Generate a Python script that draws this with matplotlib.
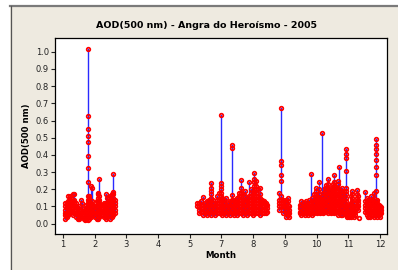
import matplotlib
matplotlib.use("Agg")
import matplotlib.pyplot as plt
from matplotlib.patches import Rectangle
from matplotlib.lines import Line2D

# ---- tick labels (axis positions 1..11, month 6 label absent in original) ----
tick_pos = [1, 2, 3, 4, 5, 6, 7, 8, 9, 10, 11]
tick_labels = ['1', '2', '3', '4', '5', '7', '8', '9', '10', '11', '12']
y_ticks = [0.0, 0.1, 0.2, 0.3, 0.4, 0.5, 0.6, 0.7, 0.8, 0.9, 1.0]

# ---- observations: x position of each day and the AOD values measured that day ----
winter_pos = [1.08, 1.12, 1.17, 1.22, 1.27, 1.32, 1.36, 1.41, 1.46, 1.51, 1.56, 1.60,
              1.65, 1.70, 1.74, 1.78, 1.82, 1.87, 1.92, 1.96, 2.01, 2.06, 2.10, 2.15,
              2.20, 2.25, 2.30, 2.35, 2.40, 2.45, 2.50, 2.55, 2.59, 2.63]
winter_aod = [
    [0.03, 0.05, 0.06, 0.08, 0.10, 0.12],
    [0.04, 0.06, 0.09, 0.11, 0.12, 0.10],
    [0.05, 0.07, 0.09, 0.11, 0.13, 0.16],
    [0.06, 0.08, 0.10, 0.12, 0.14, 0.16],
    [0.07, 0.09, 0.11, 0.13, 0.15],
    [0.05, 0.07, 0.09, 0.11, 0.13, 0.17],
    [0.06, 0.08, 0.10, 0.12, 0.14, 0.17],
    [0.04, 0.06, 0.08, 0.10, 0.12],
    [0.03, 0.05, 0.07, 0.09],
    [0.03, 0.04, 0.06, 0.08, 0.10],
    [0.04, 0.06, 0.08, 0.14],
    [0.05, 0.07, 0.09, 0.12],
    [0.03, 0.05, 0.07],
    [0.02, 0.04, 0.06, 0.08],
    [0.03, 0.05, 0.07, 0.09, 0.11],
    [0.02, 0.04, 0.06, 0.08, 0.10, 0.12, 0.14, 0.16, 0.24, 0.322, 0.394, 0.473, 0.51, 0.549, 0.628, 1.016],
    [0.03, 0.05, 0.07, 0.09, 0.11, 0.13, 0.15, 0.16],
    [0.04, 0.06, 0.08, 0.10, 0.12, 0.22],
    [0.05, 0.07, 0.09, 0.11, 0.13, 0.21],
    [0.05, 0.07, 0.09, 0.11],
    [0.04, 0.06, 0.08, 0.10],
    [0.03, 0.05, 0.07, 0.09, 0.11, 0.13],
    [0.03, 0.05, 0.07, 0.09, 0.11, 0.13, 0.15, 0.17, 0.18],
    [0.04, 0.06, 0.08, 0.10, 0.12, 0.14, 0.16, 0.26],
    [0.05, 0.07, 0.09, 0.11],
    [0.05, 0.07, 0.09, 0.11],
    [0.04, 0.06, 0.08, 0.10, 0.12],
    [0.03, 0.05, 0.07, 0.09, 0.12, 0.17],
    [0.04, 0.06, 0.08, 0.10, 0.12, 0.15],
    [0.05, 0.07, 0.09, 0.12, 0.15],
    [0.03, 0.05, 0.07, 0.09, 0.11, 0.16],
    [0.04, 0.06, 0.08, 0.10, 0.12, 0.14, 0.17],
    [0.05, 0.07, 0.09, 0.11, 0.13, 0.15, 0.17, 0.185, 0.287],
    [0.06, 0.08, 0.10, 0.12, 0.14],
]

summer_pos = [5.24, 5.30, 5.36, 5.43, 5.49, 5.55, 5.61, 5.67, 5.73, 5.79, 5.85, 5.91,
              5.97, 6.03, 6.09, 6.15, 6.21, 6.27, 6.32, 6.38, 6.44, 6.50, 6.56, 6.62,
              6.68, 6.74, 6.80, 6.86, 6.92, 6.98, 7.04, 7.09, 7.15, 7.21, 7.27, 7.33,
              7.39, 7.43]
summer_aod = [
    [0.10, 0.12],
    [0.06, 0.08, 0.10, 0.12],
    [0.07, 0.09, 0.11, 0.13],
    [0.05, 0.07, 0.09, 0.11, 0.153],
    [0.06, 0.08, 0.10, 0.12],
    [0.05, 0.07, 0.09, 0.11, 0.13],
    [0.06, 0.08, 0.10, 0.12, 0.14],
    [0.05, 0.07, 0.09, 0.11, 0.13, 0.15, 0.17, 0.19, 0.21, 0.235],
    [0.06, 0.08, 0.10, 0.12, 0.14],
    [0.05, 0.07, 0.09, 0.11],
    [0.06, 0.08, 0.10, 0.12, 0.14, 0.16],
    [0.06, 0.08, 0.10, 0.12, 0.14, 0.18],
    [0.06, 0.08, 0.10, 0.12, 0.14, 0.16, 0.18, 0.20, 0.22, 0.235, 0.632],
    [0.05, 0.07, 0.09, 0.11, 0.13, 0.15],
    [0.06, 0.08, 0.10, 0.12, 0.14],
    [0.05, 0.07, 0.09, 0.11, 0.15],
    [0.06, 0.08, 0.10, 0.12],
    [0.05, 0.07, 0.09, 0.11, 0.13],
    [0.06, 0.08, 0.10, 0.12, 0.14, 0.167, 0.438, 0.458],
    [0.05, 0.07, 0.09, 0.11, 0.13],
    [0.06, 0.08, 0.10, 0.12, 0.14],
    [0.05, 0.07, 0.09, 0.11, 0.13, 0.15],
    [0.06, 0.08, 0.10, 0.12, 0.14, 0.16, 0.18],
    [0.06, 0.08, 0.10, 0.12, 0.14, 0.16, 0.18, 0.21, 0.254],
    [0.05, 0.07, 0.09, 0.11, 0.13, 0.17],
    [0.06, 0.08, 0.10, 0.12, 0.14, 0.16, 0.19],
    [0.05, 0.07, 0.09, 0.11, 0.13, 0.15],
    [0.06, 0.08, 0.10, 0.12, 0.14, 0.16, 0.244],
    [0.06, 0.08, 0.10, 0.12, 0.14, 0.16, 0.18, 0.20],
    [0.05, 0.07, 0.09, 0.11, 0.13, 0.15, 0.17],
    [0.06, 0.08, 0.10, 0.12, 0.14, 0.16, 0.18, 0.20, 0.22, 0.24, 0.26, 0.293],
    [0.06, 0.08, 0.10, 0.12, 0.14, 0.16, 0.18, 0.20, 0.22, 0.25],
    [0.06, 0.08, 0.10, 0.12, 0.14, 0.16, 0.20],
    [0.05, 0.07, 0.09, 0.11, 0.13, 0.15, 0.17, 0.21],
    [0.06, 0.08, 0.10, 0.12, 0.14],
    [0.06, 0.08, 0.10, 0.12, 0.13],
    [0.06, 0.08, 0.10, 0.12],
    [0.07, 0.09, 0.11],
]

august_pos = [7.82, 7.88, 7.93, 7.98, 8.04, 8.09, 8.14]
august_aod = [
    [0.08, 0.10, 0.12, 0.14, 0.18],
    [0.10, 0.12, 0.14, 0.16, 0.248, 0.283, 0.341, 0.365, 0.671],
    [0.06, 0.08, 0.10, 0.12, 0.14],
    [0.11, 0.13],
    [0.04, 0.06, 0.08, 0.10, 0.12, 0.14],
    [0.05, 0.07, 0.09, 0.11, 0.13, 0.15],
    [0.04, 0.06, 0.08, 0.10],
]

autumn_pos = [8.47, 8.52, 8.57, 8.62, 8.67, 8.72, 8.77, 8.82, 8.87, 8.92, 8.97, 9.02,
              9.06, 9.11, 9.16, 9.21, 9.26, 9.31, 9.36, 9.41, 9.46, 9.51, 9.56, 9.61,
              9.66, 9.71, 9.76, 9.81, 9.86, 9.92, 9.97, 10.02, 10.07, 10.12, 10.17,
              10.22, 10.27, 10.31, 10.35, 10.53, 10.58, 10.63, 10.68, 10.73, 10.78,
              10.82, 10.86, 10.91, 10.96, 11.01, 11.04]
autumn_aod = [
    [0.06, 0.07, 0.09, 0.11],
    [0.05, 0.07, 0.09, 0.11, 0.13],
    [0.06, 0.08, 0.10, 0.12],
    [0.05, 0.07, 0.09, 0.11],
    [0.06, 0.08, 0.10, 0.12, 0.13],
    [0.05, 0.07, 0.09, 0.11],
    [0.06, 0.08, 0.10, 0.12, 0.14],
    [0.06, 0.08, 0.10, 0.12, 0.287],
    [0.05, 0.07, 0.09, 0.11, 0.13, 0.15],
    [0.06, 0.08, 0.10, 0.12, 0.14, 0.17],
    [0.07, 0.09, 0.11, 0.13, 0.15, 0.17, 0.19, 0.21],
    [0.06, 0.08, 0.10, 0.12, 0.14, 0.16],
    [0.07, 0.09, 0.11, 0.13, 0.15, 0.17, 0.20, 0.244],
    [0.06, 0.08, 0.10, 0.12, 0.14],
    [0.07, 0.09, 0.11, 0.13, 0.16, 0.529],
    [0.06, 0.08, 0.10, 0.12, 0.14, 0.16, 0.18],
    [0.07, 0.09, 0.11, 0.13, 0.15, 0.17, 0.19, 0.21],
    [0.07, 0.09, 0.11, 0.13, 0.15, 0.17, 0.19, 0.21, 0.225],
    [0.06, 0.08, 0.10, 0.12, 0.14, 0.16, 0.18, 0.20, 0.23, 0.26],
    [0.07, 0.09, 0.11, 0.13, 0.15, 0.17, 0.19],
    [0.06, 0.08, 0.10, 0.12, 0.14, 0.16, 0.18, 0.21],
    [0.07, 0.09, 0.11, 0.13, 0.15, 0.17, 0.19, 0.21, 0.23],
    [0.06, 0.08, 0.10, 0.12, 0.14, 0.16, 0.18, 0.20, 0.22, 0.24, 0.283],
    [0.07, 0.09, 0.11, 0.13, 0.15, 0.17, 0.19, 0.21],
    [0.05, 0.07, 0.09, 0.11, 0.13, 0.15, 0.17, 0.19, 0.21, 0.23, 0.25],
    [0.06, 0.08, 0.10, 0.12, 0.14, 0.16, 0.18, 0.20, 0.328],
    [0.05, 0.07, 0.09, 0.11, 0.13, 0.15, 0.17, 0.19],
    [0.05, 0.07, 0.09, 0.11, 0.13, 0.15, 0.17, 0.19, 0.21],
    [0.06, 0.08, 0.10, 0.12, 0.14, 0.16, 0.19],
    [0.05, 0.07, 0.09, 0.11, 0.13, 0.15, 0.17, 0.19, 0.21, 0.308, 0.38, 0.405, 0.432],
    [0.04, 0.06, 0.08, 0.10],
    [0.04, 0.05, 0.07, 0.09, 0.11],
    [0.04, 0.06, 0.08, 0.10, 0.12, 0.16],
    [0.05, 0.07, 0.09, 0.11, 0.13, 0.15, 0.17, 0.19],
    [0.04, 0.06, 0.08, 0.10, 0.12],
    [0.05, 0.07, 0.09],
    [0.09, 0.11, 0.13, 0.15, 0.17, 0.196],
    [0.08, 0.10, 0.12, 0.14, 0.16],
    [0.035],
    [0.07, 0.09, 0.11, 0.13, 0.186],
    [0.05, 0.07, 0.09, 0.11, 0.13, 0.15],
    [0.04, 0.06, 0.08, 0.10, 0.12, 0.14],
    [0.04, 0.06, 0.08, 0.10, 0.12],
    [0.05, 0.07, 0.09, 0.11, 0.13, 0.16],
    [0.05, 0.07, 0.09, 0.11, 0.14],
    [0.04, 0.06, 0.08, 0.10, 0.12, 0.15, 0.18],
    [0.05, 0.07, 0.09, 0.11, 0.13, 0.19, 0.283, 0.33, 0.37, 0.403, 0.432, 0.458, 0.49],
    [0.04, 0.06, 0.08, 0.10, 0.12, 0.14],
    [0.05, 0.07, 0.09, 0.11],
    [0.04, 0.06, 0.08, 0.10],
    [0.06, 0.08, 0.095],
]

W, H = 398, 270
fig = plt.figure(figsize=(W / 100, H / 100), dpi=100)
fig.patch.set_facecolor('white')

# window-like panel background with borders
panel_color = '#EEEAE0'
fig.patches.append(Rectangle((10 / W, 0), 1 - 10 / W, (H - 6) / H, transform=fig.transFigure,
                             facecolor=panel_color, edgecolor='none', zorder=-10))
fig.lines.append(Line2D([10 / W, 1], [(H - 6) / H, (H - 6) / H], transform=fig.transFigure,
                        color='#7a7a7a', linewidth=1.6, zorder=-5))
fig.lines.append(Line2D([10.5 / W, 10.5 / W], [0, (H - 6) / H], transform=fig.transFigure,
                        color='#555555', linewidth=0.9, zorder=-5))

ax = fig.add_axes([55 / W, (H - 234) / H, (387 - 55) / W, (234 - 38) / H])
ax.set_zorder(5)
ax.set_facecolor('white')

groups = [(winter_pos, winter_aod), (summer_pos, summer_aod),
          (august_pos, august_aod), (autumn_pos, autumn_aod)]
for pos_list, aod_list in groups:
    for xp, vals in zip(pos_list, aod_list):
        ax.plot([xp] * len(vals), vals, color='#2a2aff', linewidth=1.0, zorder=2)
for pos_list, aod_list in groups:
    for xp, vals in zip(pos_list, aod_list):
        ax.plot([xp] * len(vals), vals, linestyle='none', marker='o', markersize=2.6,
                markerfacecolor='none', markeredgecolor='#ff0000',
                markeredgewidth=1.25, zorder=3)

ax.set_xlim(0.75, 11.22)
ax.set_ylim(-0.06, 1.08)
ax.set_xticks(tick_pos)
ax.set_xticklabels(tick_labels)
ax.set_yticks(y_ticks)
ax.set_yticklabels([f'{v:.1f}' for v in y_ticks])
ax.tick_params(axis='both', direction='out', length=3, width=0.8, labelsize=6,
               colors='#222222', pad=1.5)
for s in ax.spines.values():
    s.set_color('black')
    s.set_linewidth(0.9)

fig.text(207 / W, 1 - 26 / H, 'AOD(500 nm) - Angra do Heroísmo - 2005', ha='center',
         va='center', fontsize=6.8, fontweight='bold', color='black')
fig.text(26 / W, 1 - 136 / H, 'AOD(500 nm)', ha='center', va='center', rotation=90,
         fontsize=6.2, fontweight='bold', color='black')
fig.text(221 / W, 1 - 255 / H, 'Month', ha='center', va='center', fontsize=6.2,
         fontweight='bold', color='black')

fig.savefig('out.png', dpi=100, facecolor=fig.get_facecolor())
